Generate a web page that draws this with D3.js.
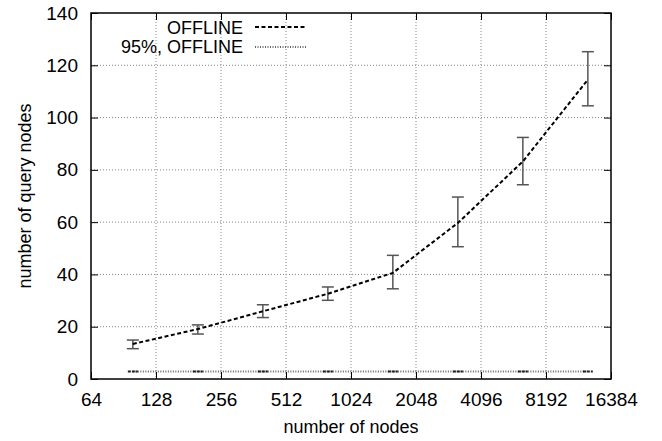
<!DOCTYPE html>
<html>
<head>
<meta charset="utf-8">
<script src="https://cdn.jsdelivr.net/npm/d3@7"></script>
<style>
  body { margin: 0; background: #fff; }
  text { font-family: "Liberation Sans", Arial, sans-serif; font-size: 18px; fill: #000; }
</style>
</head>
<body>
<div id="chart"></div>
<script>
// data
var nodes = [100, 200, 400, 800, 1600, 3200, 6400, 12800];
var offlineMean = [13.4, 19.1, 25.9, 32.6, 40.6, 59.7, 83.2, 114.5];
var offlineLow  = [11.6, 17.2, 23.5, 30.1, 34.5, 50.6, 74.3, 104.5];
var offlineHigh = [14.9, 20.7, 28.4, 35.2, 47.3, 69.6, 92.4, 125.2];
var p95Offline  = [2.9, 2.9, 2.9, 2.9, 2.9, 2.9, 2.9, 2.9];
var xTicks = [64, 128, 256, 512, 1024, 2048, 4096, 8192, 16384];
var yTicks = [0, 20, 40, 60, 80, 100, 120, 140];

var width = 662, height = 441;
var margin = {top: 13, right: 51, bottom: 62, left: 91};
var w = width - margin.left - margin.right;
var h = height - margin.top - margin.bottom;

var svg = d3.select("#chart").append("svg")
    .attr("width", width)
    .attr("height", height);

var g = svg.append("g")
    .attr("transform", "translate(" + margin.left + "," + margin.top + ")");

var xScale = d3.scaleLog().base(2).domain([64, 16384]).range([0, w]);
var yScale = d3.scaleLinear().domain([0, 140]).range([h, 0]);

// grid
g.selectAll("line.gx")
    .data(xTicks.slice(1, -1))
  .enter().append("line")
    .attr("x1", function(d){ return xScale(d); })
    .attr("x2", function(d){ return xScale(d); })
    .attr("y1", 0).attr("y2", h)
    .style("stroke", "#888").style("stroke-width", 1)
    .style("stroke-dasharray", "1,2");

g.selectAll("line.gy")
    .data(yTicks.slice(1, -1))
  .enter().append("line")
    .attr("y1", function(d){ return yScale(d); })
    .attr("y2", function(d){ return yScale(d); })
    .attr("x1", 0).attr("x2", w)
    .style("stroke", "#888").style("stroke-width", 1)
    .style("stroke-dasharray", "1,2");

// axes, ticks pointing inwards
var xAxis = d3.axisBottom(xScale).tickValues(xTicks).tickFormat(d3.format("d"))
    .tickSizeInner(-7).tickSizeOuter(0).tickPadding(14);
var yAxis = d3.axisLeft(yScale).tickValues(yTicks)
    .tickSizeInner(-7).tickSizeOuter(0).tickPadding(13);

var xG = g.append("g")
    .attr("transform", "translate(0," + h + ")")
    .call(xAxis);
var yG = g.append("g").call(yAxis);

g.append("g").call(d3.axisTop(xScale).tickValues(xTicks).tickSizeInner(-7).tickSizeOuter(0).tickFormat(""));
g.append("g").attr("transform", "translate(" + w + ",0)")
    .call(d3.axisRight(yScale).tickValues(yTicks).tickSizeInner(-7).tickSizeOuter(0).tickFormat(""));

g.selectAll(".domain").remove();
g.selectAll(".tick line").style("stroke", "#000").style("stroke-width", 1);
g.selectAll(".tick text").style("font-size", "19px")
    .style("font-family", "'Liberation Sans', Arial, sans-serif");

// border
g.append("rect")
    .attr("x", 0).attr("y", 0).attr("width", w).attr("height", h)
    .style("fill", "none").style("stroke", "#000").style("stroke-width", 1.5);

// 95% line
var line95 = d3.line()
    .x(function(d, i){ return xScale(nodes[i]); })
    .y(function(d){ return yScale(d); });

g.append("path")
    .datum(p95Offline)
    .attr("d", line95)
    .style("fill", "none").style("stroke", "#666").style("stroke-width", 2)
    .style("stroke-dasharray", "1,1.5");

// zero-size error bar caps of 95% series
g.selectAll("line.cap95")
    .data(p95Offline)
  .enter().append("line")
    .attr("x1", function(d, i){ return xScale(nodes[i]) - 5; })
    .attr("x2", function(d, i){ return xScale(nodes[i]) + 5; })
    .attr("y1", function(d){ return yScale(d); })
    .attr("y2", function(d){ return yScale(d); })
    .style("stroke", "#222").style("stroke-width", 2)
    .style("stroke-dasharray", "3,1");

// error bars for offline
var bars = g.selectAll("g.ebar")
    .data(nodes)
  .enter().append("g")
    .attr("class", "ebar")
    .style("stroke", "#555").style("stroke-width", 1.5);

bars.append("line")
    .attr("x1", function(d){ return xScale(d); })
    .attr("x2", function(d){ return xScale(d); })
    .attr("y1", function(d, i){ return yScale(offlineLow[i]); })
    .attr("y2", function(d, i){ return yScale(offlineHigh[i]); });
bars.append("line")
    .attr("x1", function(d){ return xScale(d) - 6; })
    .attr("x2", function(d){ return xScale(d) + 6; })
    .attr("y1", function(d, i){ return yScale(offlineLow[i]); })
    .attr("y2", function(d, i){ return yScale(offlineLow[i]); });
bars.append("line")
    .attr("x1", function(d){ return xScale(d) - 6; })
    .attr("x2", function(d){ return xScale(d) + 6; })
    .attr("y1", function(d, i){ return yScale(offlineHigh[i]); })
    .attr("y2", function(d, i){ return yScale(offlineHigh[i]); });

// offline mean line
g.append("path")
    .datum(offlineMean)
    .attr("d", line95)
    .style("fill", "none").style("stroke", "#000").style("stroke-width", 2)
    .style("stroke-dasharray", "4,2.5");

// legend
var legend = svg.append("g").style("font-size", "19px");
legend.append("text")
    .attr("x", 243).attr("y", 34)
    .style("text-anchor", "end")
    .text("OFFLINE");
legend.append("line")
    .attr("x1", 255).attr("x2", 307).attr("y1", 27).attr("y2", 27)
    .style("stroke", "#000").style("stroke-width", 2)
    .style("stroke-dasharray", "4,2.5");
legend.append("text")
    .attr("x", 243).attr("y", 53)
    .style("text-anchor", "end")
    .text("95%, OFFLINE");
legend.append("line")
    .attr("x1", 255).attr("x2", 307).attr("y1", 47).attr("y2", 47)
    .style("stroke", "#666").style("stroke-width", 2)
    .style("stroke-dasharray", "1,1.5");

// axis titles
svg.append("text")
    .attr("x", margin.left + w / 2).attr("y", 433)
    .style("text-anchor", "middle")
    .text("number of nodes");

svg.append("text")
    .attr("transform", "rotate(-90)")
    .attr("x", -(margin.top + h / 2)).attr("y", 31)
    .style("text-anchor", "middle")
    .text("number of query nodes");
</script>
</body>
</html>
